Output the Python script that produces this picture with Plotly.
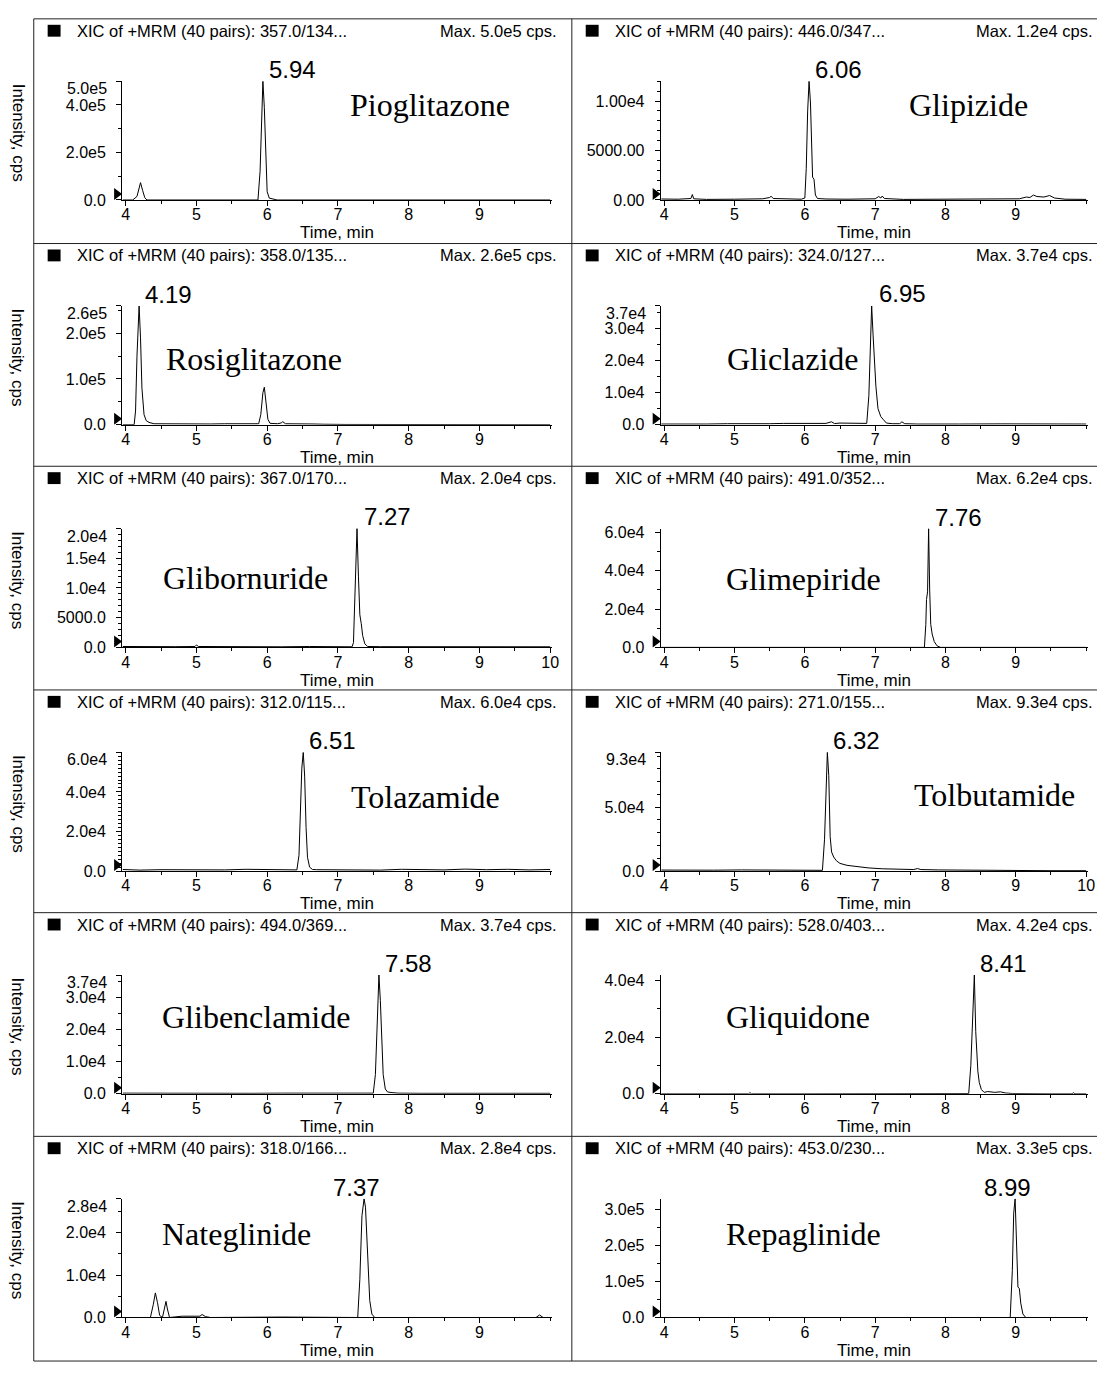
import plotly.graph_objects as go

W, H = 1104, 1374

# ---------------- data ----------------
compounds = ["Pioglitazone", "Glipizide", "Rosiglitazone", "Gliclazide",
             "Glibornuride", "Glimepiride", "Tolazamide", "Tolbutamide",
             "Glibenclamide", "Gliquidone", "Nateglinide", "Repaglinide"]
transitions = ["357.0/134...", "446.0/347...", "358.0/135...", "324.0/127...",
               "367.0/170...", "491.0/352...", "312.0/115...", "271.0/155...",
               "494.0/369...", "528.0/403...", "318.0/166...", "453.0/230..."]
max_labels = ["5.0e5", "1.2e4", "2.6e5", "3.7e4", "2.0e4", "6.2e4",
              "6.0e4", "9.3e4", "3.7e4", "4.2e4", "2.8e4", "3.3e5"]
y_max = [5.0e5, 1.2e4, 2.6e5, 3.7e4, 2.0e4, 6.2e4, 6.0e4, 9.3e4, 3.7e4, 4.2e4, 2.8e4, 3.3e5]
peak_rt = [5.94, 6.06, 4.19, 6.95, 7.27, 7.76, 6.51, 6.32, 7.58, 8.41, 7.37, 8.99]
peak_labels = ["5.94", "6.06", "4.19", "6.95", "7.27", "7.76",
               "6.51", "6.32", "7.58", "8.41", "7.37", "8.99"]

pio_t = [3.96, 4.10, 4.16, 4.19, 4.21, 4.24, 4.27, 4.30, 5.87, 5.90, 5.92, 5.94, 5.96, 5.98, 6.00, 6.03, 6.06, 6.10, 6.14, 10.00]
pio_i = [0, 0, 1.5e4, 5.0e4, 7.3e4, 4.0e4, 1.0e4, 0, 0, 1.2e5, 3.6e5, 5.0e5, 3.9e5, 1.6e5, 3.5e4, 8e3, 5e3, 4e3, 0, 0]

gpz_t = [3.96, 4.20, 4.38, 4.40, 4.42, 4.60, 5.00, 5.40, 5.50, 5.52, 5.55, 5.70, 5.95, 6.00, 6.02, 6.04, 6.06, 6.08, 6.10, 6.11, 6.13, 6.15, 6.18, 6.30, 6.60, 7.00, 7.05, 7.08, 7.10, 7.13, 7.40, 8.00, 8.60, 9.05, 9.15, 9.20, 9.25, 9.30, 9.40, 9.48, 9.55, 9.70, 10.00]
gpz_i = [100, 80, 150, 550, 120, 60, 80, 120, 250, 380, 150, 100, 80, 200, 3200, 9000, 12000, 9800, 4200, 2300, 2100, 500, 150, 100, 80, 120, 350, 200, 400, 150, 60, 70, 60, 120, 300, 250, 500, 350, 300, 450, 200, 80, 60]

rsg_t = [3.96, 4.12, 4.14, 4.16, 4.19, 4.21, 4.23, 4.26, 4.29, 4.33, 4.40, 4.80, 4.82, 5.20, 5.40, 5.60, 5.88, 5.91, 5.94, 5.96, 5.98, 6.01, 6.04, 6.15, 6.20, 6.22, 6.26, 6.50, 6.65, 6.80, 7.05, 7.10, 10.00]
rsg_i = [0, 0, 3e4, 1.5e5, 2.6e5, 1.9e5, 8e4, 2.2e4, 9e3, 5e3, 2e3, 1e3, 2.5e3, 1.5e3, 2e3, 1.5e3, 2e3, 2.2e4, 7e4, 8.2e4, 5.5e4, 1.2e4, 3e3, 2e3, 4e3, 6.5e3, 2e3, 2.5e3, 1.5e3, 1e3, 1.5e3, 500, 0]

glz_t = [3.96, 4.10, 4.30, 4.60, 4.90, 5.10, 5.30, 5.50, 5.70, 5.90, 6.10, 6.30, 6.38, 6.42, 6.50, 6.60, 6.80, 6.88, 6.91, 6.93, 6.95, 6.97, 6.99, 7.01, 7.04, 7.08, 7.12, 7.16, 7.25, 7.35, 7.38, 7.42, 7.60, 7.80, 8.20, 8.80, 9.30, 9.60, 10.00]
glz_i = [200, 150, 250, 200, 300, 250, 350, 300, 400, 350, 300, 400, 900, 350, 500, 450, 300, 400, 9000, 2.6e4, 3.7e4, 2.8e4, 2.0e4, 1.2e4, 5000, 2500, 1500, 500, 300, 300, 900, 300, 200, 250, 200, 250, 200, 250, 200]

gbn_t = [3.96, 4.30, 4.70, 4.98, 5.00, 5.03, 5.40, 5.80, 6.20, 6.60, 7.00, 7.20, 7.22, 7.25, 7.27, 7.29, 7.31, 7.33, 7.35, 7.38, 7.42, 7.60, 8.00, 8.50, 9.00, 9.50, 10.00]
gbn_i = [150, 100, 120, 150, 400, 150, 100, 120, 100, 150, 120, 100, 800, 1.1e4, 2.0e4, 1.2e4, 5500, 4000, 2000, 600, 150, 120, 100, 80, 100, 80, 100]

gmp_t = [3.96, 7.70, 7.72, 7.73, 7.745, 7.76, 7.775, 7.79, 7.81, 7.84, 7.88, 7.93, 10.00]
gmp_i = [0, 0, 1.2e4, 2.5e4, 2.9e4, 6.2e4, 3.0e4, 1.2e4, 7000, 3000, 800, 0, 0]

tlz_t = [3.96, 4.20, 4.50, 4.80, 5.10, 5.40, 5.70, 6.00, 6.20, 6.42, 6.45, 6.47, 6.49, 6.51, 6.53, 6.55, 6.57, 6.60, 6.64, 6.70, 7.00, 7.30, 7.60, 7.90, 8.20, 8.50, 8.80, 9.10, 9.40, 9.70, 10.00]
tlz_i = [800, 500, 700, 600, 800, 600, 900, 700, 800, 600, 8000, 3.0e4, 5.2e4, 6.0e4, 4.8e4, 2.2e4, 7000, 2000, 800, 700, 600, 800, 500, 900, 700, 600, 1000, 700, 900, 600, 800]

tbt_t = [3.96, 4.30, 4.70, 5.10, 5.50, 5.90, 6.20, 6.25, 6.28, 6.30, 6.32, 6.34, 6.36, 6.38, 6.41, 6.45, 6.50, 6.60, 6.75, 6.90, 7.10, 7.30, 7.55, 7.60, 7.65, 7.90, 8.20, 8.60, 9.00, 9.50, 10.00]
tbt_i = [800, 600, 700, 900, 600, 700, 500, 600, 2.5e4, 6.0e4, 9.3e4, 7.5e4, 2.7e4, 1.5e4, 1.1e4, 8000, 6000, 4500, 3500, 2500, 1800, 1500, 1200, 2000, 1200, 900, 700, 500, 400, 300, 300]

gbc_t = [3.96, 4.40, 4.80, 5.20, 5.50, 5.80, 6.20, 6.60, 7.00, 7.40, 7.50, 7.53, 7.555, 7.58, 7.60, 7.62, 7.64, 7.67, 7.70, 7.75, 7.85, 8.20, 8.60, 9.00, 9.50, 10.00]
gbc_i = [200, 150, 200, 250, 200, 150, 200, 150, 200, 150, 200, 6000, 2.4e4, 3.7e4, 2.9e4, 1.5e4, 6000, 1500, 600, 400, 200, 150, 200, 150, 200, 150]

gqd_t = [3.96, 5.20, 5.22, 5.24, 6.00, 7.00, 8.00, 8.33, 8.36, 8.385, 8.41, 8.43, 8.45, 8.46, 8.48, 8.51, 8.55, 8.60, 8.70, 8.78, 8.85, 8.95, 9.50, 9.80, 9.82, 9.84, 10.00]
gqd_i = [0, 0, 400, 0, 0, 0, 0, 100, 1.0e4, 3.0e4, 4.2e4, 2.2e4, 1.0e4, 8000, 4000, 1500, 500, 800, 500, 700, 300, 100, 0, 0, 400, 0, 0]

ntg_t = [3.96, 4.35, 4.39, 4.42, 4.45, 4.48, 4.52, 4.55, 4.57, 4.59, 4.62, 4.80, 4.95, 5.05, 5.08, 5.10, 5.13, 5.20, 6.20, 7.28, 7.31, 7.34, 7.37, 7.39, 7.42, 7.45, 7.48, 7.52, 8.00, 9.80, 9.85, 9.90, 10.00]
ntg_i = [0, 0, 3000, 5800, 3500, 500, 0, 2500, 3800, 2000, 0, 300, 200, 300, 700, 500, 200, 0, 100, 0, 9000, 2.4e4, 2.8e4, 2.6e4, 1.4e4, 4000, 800, 0, 0, 0, 600, 0, 0]

rpg_t = [3.96, 8.92, 8.95, 8.97, 8.99, 9.01, 9.03, 9.05, 9.07, 9.10, 9.14, 10.00]
rpg_i = [0, 0, 1.3e5, 2.9e5, 3.3e5, 2.2e5, 8.5e4, 8.0e4, 4.0e4, 1.0e4, 0, 0]

times = [pio_t, gpz_t, rsg_t, glz_t, gbn_t, gmp_t, tlz_t, tbt_t, gbc_t, gqd_t, ntg_t, rpg_t]
intens = [pio_i, gpz_i, rsg_i, glz_i, gbn_i, gmp_i, tlz_i, tbt_i, gbc_i, gqd_i, ntg_i, rpg_i]

ytick_vals = [[0, 2e5, 4e5, 5e5], [0, 5000, 1e4], [0, 1e5, 2e5, 2.6e5], [0, 1e4, 2e4, 3e4, 3.7e4],
              [0, 5000, 1e4, 1.5e4, 2e4], [0, 2e4, 4e4, 6e4], [0, 2e4, 4e4, 6e4], [0, 5e4, 9.3e4],
              [0, 1e4, 2e4, 3e4, 3.7e4], [0, 2e4, 4e4], [0, 1e4, 2e4, 2.8e4], [0, 1e5, 2e5, 3e5]]
ytick_text = [["0.0", "2.0e5", "4.0e5", "5.0e5"], ["0.00", "5000.00", "1.00e4"],
              ["0.0", "1.0e5", "2.0e5", "2.6e5"], ["0.0", "1.0e4", "2.0e4", "3.0e4", "3.7e4"],
              ["0.0", "5000.0", "1.0e4", "1.5e4", "2.0e4"], ["0.0", "2.0e4", "4.0e4", "6.0e4"],
              ["0.0", "2.0e4", "4.0e4", "6.0e4"], ["0.0", "5.0e4", "9.3e4"],
              ["0.0", "1.0e4", "2.0e4", "3.0e4", "3.7e4"], ["0.0", "2.0e4", "4.0e4"],
              ["0.0", "1.0e4", "2.0e4", "2.8e4"], ["0.0", "1.0e5", "2.0e5", "3.0e5"]]
ytick_minor = [1e5, 1000, 5e4, 5000, 1000, 1e4, 2000, 1e4, 5000, 1e4, 5000, 5e4]
xtick_short = [4, 5, 6, 7, 8, 9]
xtick_long = [4, 5, 6, 7, 8, 9, 10]
x_long_panels = [4, 7]
leader_panels = [3, 4]

# ---------------- layout geometry ----------------
ROW_TOP = [14, 241, 466, 692, 917, 1143]
BOTTOM = 1370
COL_X = [(122.0, 555.3), (664.5, 1095.2)]
X_RANGE = [3.95, 10.03]
PLOT_TOP_OFF, PLOT_BOT_OFF = 63, 183
NAME_POS = [(432, 87), (975, 87), (255, 117), (797, 117), (246, 113), (808, 114),
            (428, 108), (1001, 106), (257, 105), (803, 105), (237, 99), (808, 99)]

SANS = "Arial, Liberation Sans, sans-serif"
SERIF = "Times New Roman, Liberation Serif, serif"


def fx(px):
    return px / W


def fy(py):
    return 1 - py / H


fig = go.Figure()
shapes = []
annotations = []
layout = {}

for k in range(12):
    r, c = divmod(k, 2)
    top = ROW_TOP[r]
    x0, x1 = COL_X[c]
    n = k + 1
    xa = "x" if n == 1 else f"x{n}"
    ya = "y" if n == 1 else f"y{n}"

    fig.add_trace(go.Scatter(x=times[k], y=intens[k], mode="lines",
                             line=dict(color="black", width=1),
                             xaxis=xa, yaxis=ya, showlegend=False, hoverinfo="skip"))

    xt = xtick_long if k in x_long_panels else xtick_short
    layout[f"xaxis{n}"] = dict(
        domain=[fx(x0), fx(x1)], anchor=ya, range=X_RANGE,
        showline=True, linecolor="black", linewidth=1, mirror=False,
        ticks="outside", ticklen=5, tickcolor="black", tickwidth=1,
        tickvals=xt, ticktext=[str(v) for v in xt],
        tickfont=dict(family=SANS, size=16, color="black"),
        ticklabelstandoff=-5,
        showgrid=False, zeroline=False,
        minor=dict(ticks="outside", ticklen=3, tick0=0, dtick=0.5, tickcolor="black", showgrid=False),
    )

    # the label of a tick sitting at the axis top is pushed down inside the axis, as the source does
    ytxt = list(ytick_text[k])
    top_label = None
    if ytick_vals[k][-1] == y_max[k]:
        top_label = ytxt[-1]
        ytxt[-1] = ""
    layout[f"yaxis{n}"] = dict(
        domain=[fy(top + PLOT_BOT_OFF), fy(top + PLOT_TOP_OFF)], anchor=xa,
        range=[0, y_max[k]],
        showline=True, linecolor="black", linewidth=1,
        ticks="outside", ticklen=5, tickcolor="black", tickwidth=1,
        tickvals=ytick_vals[k], ticktext=ytxt,
        tickfont=dict(family=SANS, size=16, color="black"),
        ticklabelstandoff=7,
        showgrid=False, zeroline=False,
        minor=dict(ticks="outside", ticklen=3, tick0=0, dtick=ytick_minor[k], tickcolor="black", showgrid=False),
    )
    if top_label is not None:
        annotations.append(dict(xref="paper", yref=ya, x=fx(x0 - 13), y=y_max[k],
                                xanchor="right", yanchor="top", yshift=3, showarrow=False,
                                text=top_label, font=dict(family=SANS, size=16, color="black")))

    # header
    sq_x = 47 if c == 0 else 589
    shapes.append(dict(type="rect", xref="paper", yref="paper",
                       x0=fx(sq_x), x1=fx(sq_x + 13), y0=fy(top + 18), y1=fy(top + 6),
                       fillcolor="black", line=dict(width=0)))
    hx = 75 if c == 0 else 616
    annotations.append(dict(xref="paper", yref="paper", x=fx(hx), y=fy(top + 12),
                            xanchor="left", yanchor="middle", showarrow=False,
                            text=f"XIC of +MRM (40 pairs): {transitions[k]}",
                            font=dict(family=SANS, size=16.5, color="black")))
    mx = 561 if c == 0 else 1101
    annotations.append(dict(xref="paper", yref="paper", x=fx(mx), y=fy(top + 12),
                            xanchor="right", yanchor="middle", showarrow=False,
                            text=f"Max. {max_labels[k]} cps.",
                            font=dict(family=SANS, size=16.5, color="black")))
    # x title
    annotations.append(dict(xref="paper", yref="paper", x=fx((x0 + x1) / 2), y=fy(top + 216),
                            xanchor="center", yanchor="middle", showarrow=False,
                            text="Time, min", font=dict(family=SANS, size=17, color="black")))
    # y title
    if c == 0:
        annotations.append(dict(xref="paper", yref="paper", x=fx(17), y=fy(top + 115),
                                xanchor="center", yanchor="middle", showarrow=False, textangle=90,
                                text="Intensity, cps", font=dict(family=SANS, size=17, color="black")))
    # compound name
    nx, ny = NAME_POS[k]
    annotations.append(dict(xref="paper", yref="paper", x=fx(nx), y=fy(top + ny),
                            xanchor="center", yanchor="middle", showarrow=False,
                            text=compounds[k], font=dict(family=SERIF, size=32, color="black")))
    # peak label
    if r == 5:
        annotations.append(dict(xref=xa, yref=ya, x=peak_rt[k], y=y_max[k],
                                xanchor="center", yanchor="bottom", xshift=-8, yshift=-4,
                                showarrow=False, text=peak_labels[k],
                                font=dict(family=SANS, size=24, color="black")))
    elif k in leader_panels:
        shapes.append(dict(type="line", xref=xa, yref=ya, xsizemode="pixel", ysizemode="pixel",
                           xanchor=peak_rt[k], yanchor=y_max[k], x0=0, y0=0, x1=6, y1=9,
                           line=dict(color="black", width=1)))
        annotations.append(dict(xref=xa, yref=ya, x=peak_rt[k], y=y_max[k],
                                xanchor="left", yanchor="bottom", xshift=5, yshift=-3,
                                showarrow=False, text=peak_labels[k],
                                font=dict(family=SANS, size=24, color="black")))
    else:
        annotations.append(dict(xref=xa, yref=ya, x=peak_rt[k], y=y_max[k],
                                xanchor="left", yanchor="bottom", xshift=4, yshift=-4,
                                showarrow=False, text=peak_labels[k],
                                font=dict(family=SANS, size=24, color="black")))
    # start-of-trace triangle marker
    shapes.append(dict(type="path", xref="paper", yref=ya, xsizemode="pixel", ysizemode="pixel",
                       xanchor=fx(x0), yanchor=0, path="M-8,0 L0,6 L-8,12 Z",
                       fillcolor="black", line=dict(width=0)))

# frame
for top in ROW_TOP + [BOTTOM]:
    shapes.append(dict(type="line", xref="paper", yref="paper", x0=fx(33), x1=1,
                       y0=fy(top), y1=fy(top), line=dict(color="#222", width=1)))
for vx in [33, 575]:
    shapes.append(dict(type="line", xref="paper", yref="paper", x0=fx(vx), x1=fx(vx),
                       y0=fy(ROW_TOP[0]), y1=fy(BOTTOM), line=dict(color="#222", width=1)))

fig.update_layout(width=W, height=H, margin=dict(l=0, r=0, t=0, b=0),
                  paper_bgcolor="white", plot_bgcolor="white",
                  shapes=shapes, annotations=annotations, **layout)

fig.write_html("out.html", config={"displayModeBar": False},
               post_script="document.body.style.margin='0';document.body.style.overflow='hidden';")
